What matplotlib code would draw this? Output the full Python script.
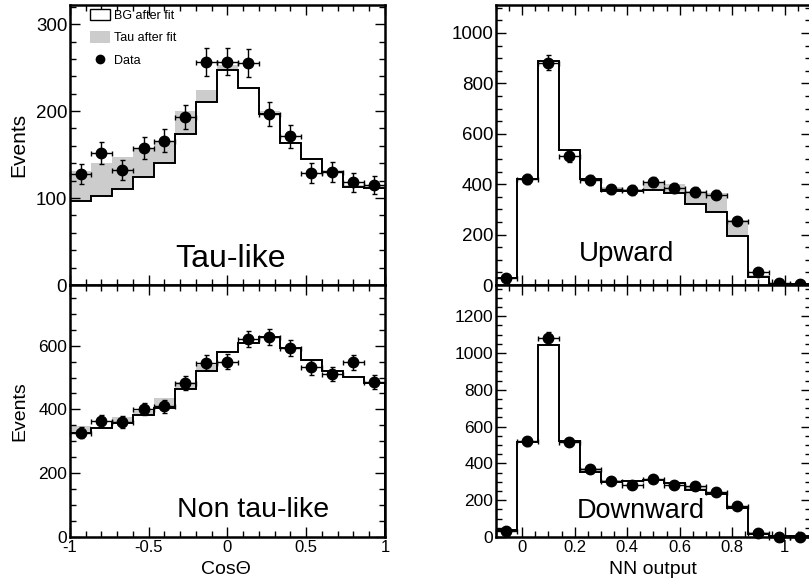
import numpy as np
import matplotlib
matplotlib.use('Agg')
import matplotlib.pyplot as plt
from matplotlib.ticker import MultipleLocator, FuncFormatter
from matplotlib.patches import Patch
from matplotlib.lines import Line2D

plt.rcParams['font.family'] = ['Liberation Sans', 'DejaVu Sans']
plt.rcParams['axes.unicode_minus'] = False

# ---- binning ----
cos_edges = np.linspace(-1.0, 1.0, 16)
nn_edges = np.linspace(-0.1, 1.1, 16)

# ---- Tau-like (CosTheta) ----
taulike_bg = [96.5, 102, 110, 124, 140, 174, 210, 247, 227, 197, 163, 145, 130.5, 113, 111]
taulike_total = [131, 140, 147.5, 157, 165, 200, 224, 253, 228, 200, 164, 146, 132, 115, 114]
taulike_data = [128, 152, 132, 158, 166, 193, 256, 257, 255, 197, 171, 129, 130, 118, 115]
taulike_err = [11.3, 12.3, 11.5, 12.6, 12.9, 13.9, 16.0, 16.0, 16.0, 14.0, 13.1, 11.4, 11.4, 10.9, 10.7]

# ---- Non tau-like (CosTheta) ----
nontau_bg = [325, 342, 358, 384, 405, 464, 521, 580, 607, 626, 594, 555, 521, 503, 484]
nontau_total = [349, 346, 377, 396, 435, 487, 539, 584, 611, 628, 597, 557, 523, 505, 487]
nontau_data = [327, 364, 361, 401, 410, 482, 546, 550, 622, 626, 593, 532, 511, 548, 487]
nontau_err = [18.1, 19.1, 19.0, 20.0, 20.2, 22.0, 23.4, 23.5, 24.9, 25.0, 24.4, 23.1, 22.6, 23.4, 22.1]

# ---- Upward (NN output) ----
up_bg = [26, 420, 888, 535, 420, 374, 374, 376, 366, 320, 289, 194, 30, 3, 4]
up_total = [28, 422, 892, 539, 424, 390, 382, 405, 400, 374, 366, 258, 40, 5, 4]
up_data = [29, 420, 882, 512, 416, 379, 376, 410, 386, 370, 359, 255, 50, 9, 5]
up_err = [5.4, 20.5, 29.7, 22.6, 20.4, 19.5, 19.4, 20.2, 19.6, 19.2, 18.9, 16.0, 7.1, 3.0, 2.2]

# ---- Downward (NN output) ----
down_bg = [36, 515, 1042, 520, 356, 300, 305, 309, 293, 256, 233, 156, 18, 5, 3]
down_total = [40, 522, 1046, 525, 373, 311, 310, 315, 300, 275, 247, 167, 25, 6, 3]
down_data = [33, 520, 1084, 516, 367, 304, 284, 316, 284, 275, 242, 167, 24, 2, 0]
down_err = [5.7, 22.8, 32.9, 22.7, 19.2, 17.4, 16.9, 17.8, 16.9, 16.6, 15.6, 12.9, 4.9, 1.4, 0.0]

GRAY = '#cccccc'

W, H = 809, 586
fig = plt.figure(figsize=(W / 100, H / 100), dpi=100)


def ax_at(x0, y0, x1, y1):
    return fig.add_axes([x0 / W, 1 - y1 / H, (x1 - x0) / W, (y1 - y0) / H])


ax_tl = ax_at(70, 5, 385, 285)
ax_bl = ax_at(70, 285, 385, 537)
ax_tr = ax_at(496, 5, 811, 285)
ax_br = ax_at(496, 285, 811, 537)


def draw(ax, edges, bg, total, data, err):
    ax.stairs(total, edges, baseline=bg, fill=True, color=GRAY, lw=0, zorder=1)
    ax.stairs(bg, edges, baseline=0, color='black', lw=1.4, zorder=2)
    centers = 0.5 * (edges[:-1] + edges[1:])
    xerr = 0.5 * np.diff(edges)
    ax.errorbar(centers, data, yerr=err, xerr=xerr, fmt='o', color='black',
                ms=7.5, elinewidth=1.0, capsize=1.8, capthick=1.0, zorder=3,
                clip_on=False)


draw(ax_tl, cos_edges, taulike_bg, taulike_total, taulike_data, taulike_err)
draw(ax_bl, cos_edges, nontau_bg, nontau_total, nontau_data, nontau_err)
draw(ax_tr, nn_edges, up_bg, up_total, up_data, up_err)
draw(ax_br, nn_edges, down_bg, down_total, down_data, down_err)

fmt = FuncFormatter(lambda v, p: '%g' % v)


def style(ax, xlim, ylim, xmaj, xmin, ymaj, ymin, ysize, show_x, xsize=12):
    ax.set_xlim(*xlim)
    ax.set_ylim(*ylim)
    ax.xaxis.set_major_locator(MultipleLocator(xmaj))
    ax.xaxis.set_minor_locator(MultipleLocator(xmin))
    ax.yaxis.set_major_locator(MultipleLocator(ymaj))
    ax.yaxis.set_minor_locator(MultipleLocator(ymin))
    ax.xaxis.set_major_formatter(fmt)
    ax.yaxis.set_major_formatter(fmt)
    ax.tick_params(which='both', direction='in', top=True, right=True, width=1.0)
    ax.tick_params(which='major', length=7)
    ax.tick_params(which='minor', length=4)
    ax.tick_params(axis='y', labelsize=ysize, pad=2)
    ax.tick_params(axis='x', labelsize=xsize, pad=2.5)
    if not show_x:
        ax.tick_params(axis='x', labelbottom=False)
    for s in ax.spines.values():
        s.set_linewidth(1.8)


style(ax_tl, (-1, 1), (0, 322), 0.5, 0.1, 100, 20, 13.5, False)
style(ax_bl, (-1, 1), (0, 790), 0.5, 0.1, 200, 50, 12.5, True)
style(ax_tr, (-0.1, 1.1), (0, 1111), 0.2, 0.05, 200, 50, 13.5, False)
style(ax_br, (-0.1, 1.1), (0, 1370), 0.2, 0.05, 200, 50, 12.5, True)

# panel names
ax_tl.text(0.508, 0.064, 'Tau-like', transform=ax_tl.transAxes, ha='center',
           va='baseline', fontsize=23)
ax_bl.text(0.582, 0.079, 'Non tau-like', transform=ax_bl.transAxes, ha='center',
           va='baseline', fontsize=20.5)
ax_tr.text(0.416, 0.086, 'Upward', transform=ax_tr.transAxes, ha='center',
           va='baseline', fontsize=20)
ax_br.text(0.46, 0.077, 'Downward', transform=ax_br.transAxes, ha='center',
           va='baseline', fontsize=19.5)

# axis titles
fig.text(19 / W, 1 - 145 / H, 'Events', rotation=90, ha='center', va='center', fontsize=15)
fig.text(20 / W, 1 - 411 / H, 'Events', rotation=90, ha='center', va='center', fontsize=14)
fig.text(226 / W, 1 - 570 / H, 'Cos\u0398', ha='center', va='center', fontsize=14)
fig.text(653 / W, 1 - 569 / H, 'NN output', ha='center', va='center', fontsize=14)

# legend
handles = [Patch(facecolor='white', edgecolor='black', lw=1.0),
           Patch(facecolor=GRAY, edgecolor='none'),
           Line2D([], [], marker='o', color='black', ls='none', ms=6)]
labels = ['BG after fit', 'Tau after fit', 'Data']
ax_tl.legend(handles, labels, loc='upper left', bbox_to_anchor=(0.063, 0.985),
             frameon=False, fontsize=9, handlelength=1.6, handleheight=1.0,
             handletextpad=0.3, borderpad=0, borderaxespad=0, labelspacing=0.75)

fig.savefig('out.png', dpi=100)
